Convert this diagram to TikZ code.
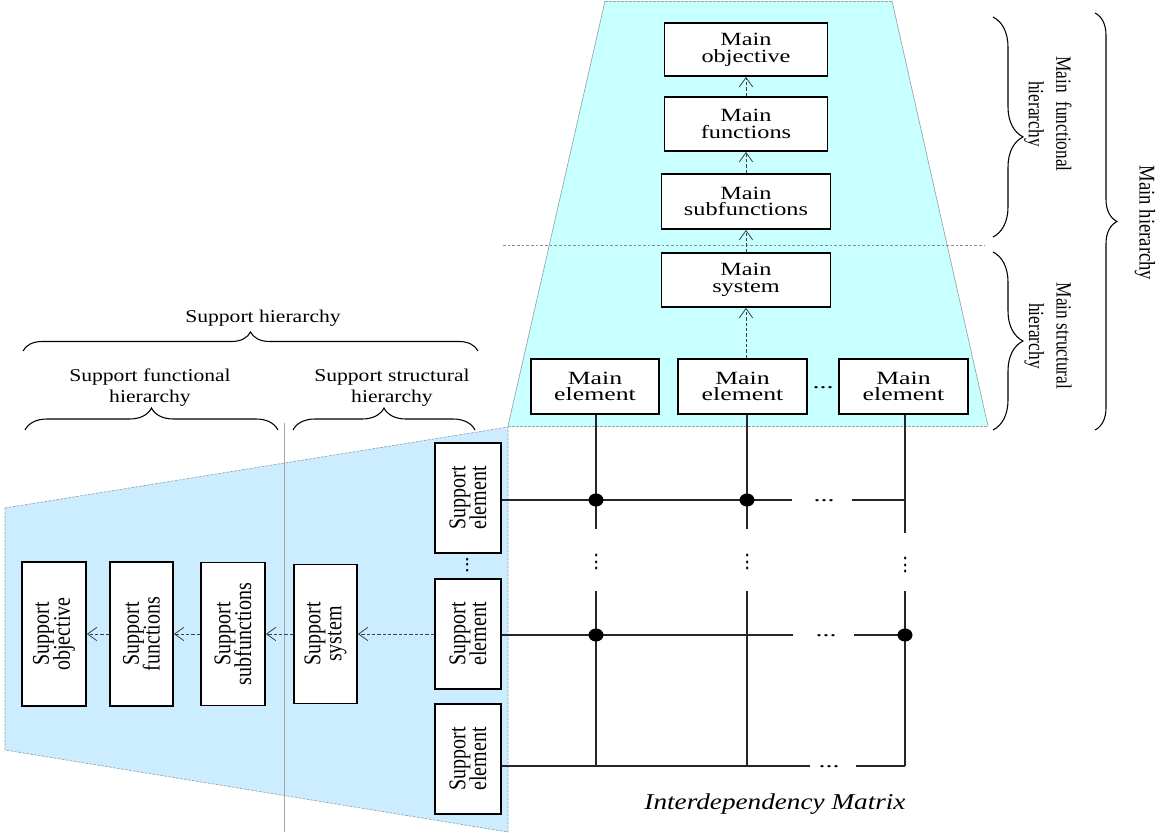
\documentclass[tikz,border=0pt]{standalone}
\usepackage{fontspec}
\setmainfont{Liberation Serif}
\usepackage{graphicx}
\usetikzlibrary{arrows.meta,decorations.pathreplacing}

\definecolor{maincyan}{RGB}{200,255,255}
\definecolor{suppblue}{RGB}{204,236,255}
\definecolor{edgegray}{RGB}{150,165,170}

\newdimen\upx \upx=0.75pt
% centred stack of lines (separated by \cr), leading taken from the current font
\newcommand\stk[1]{\vbox{\lineskiplimit=-\maxdimen\halign{\hfil##\hfil\cr#1\crcr}}}
% stack widened horizontally
\newcommand\wide[2]{\scalebox{#1}[1]{\stk{#2}}}
% stack set bottom-to-top, widened across its lines
\newcommand\tall[2]{\rotatebox{90}{\scalebox{1}[#1]{\stk{#2}}}}

\begin{document}
\begin{tikzpicture}[x=0.75pt, y=-0.75pt,
  mbox/.style 2 args={draw=black, line width=1.3pt, fill=white, inner sep=0pt,
    minimum width=#1*\upx, minimum height=#2*\upx, font=\fontsize{14}{12.5}\selectfont},
  sbox/.style 2 args={mbox={#1}{#2}, font=\fontsize{15}{13}\selectfont},
  conn/.style={draw=black!75, line width=0.6pt, dash pattern=on 2.5pt off 1.5pt,
    -{Straight Barb[length=7pt,width=10pt,line width=0.6pt]}},
  grid/.style={draw=black!85, line width=0.9pt},
  hbrace/.style={decorate, decoration={brace, amplitude=#1}, draw=black, line width=0.8pt},
  lbl/.style={font=\fontsize{13.5}{15.75}\selectfont, inner sep=0pt},
  rlbl/.style={font=\fontsize{13}{16.5}\selectfont, inner sep=0pt, rotate=-90},
  hdots/.style={font=\fontsize{14}{14}\selectfont, inner sep=0pt, anchor=base},
  vdots/.style={font=\fontsize{14}{14}\selectfont, inner sep=0pt, anchor=base, rotate=90},
  shade edge/.style={draw=edgegray, line width=0.5pt},
  shade dash/.style={draw=edgegray, line width=0.5pt, dash pattern=on 2pt off 1pt},
]
\useasboundingbox (0,0) rectangle (1163,832);

% shaded regions
\fill[maincyan] (605,1) -- (892,1) -- (988,426) -- (508,426) -- cycle;
\draw[shade dash] (605,1) -- (892,1);
\draw[shade edge] (892,1) -- (988,426);
\draw[shade edge] (605,1) -- (508,426);
\draw[shade dash] (508,426) -- (988,426);
\fill[suppblue] (5,508) -- (508,427) -- (508,832) -- (5,750) -- cycle;
\draw[shade dash] (5,508) -- (508,427) -- (508,832) -- (5,750) -- cycle;

% dividers between functional and structural levels
\draw[draw=black!45, line width=0.5pt, dash pattern=on 2pt off 1.5pt] (503,245) -- (985,245);
\draw[draw=black!35, line width=0.5pt] (284,423) -- (284,832);

% main hierarchy
\node[mbox={163}{53}] (obj) at (746,49.5) {\wide{1.3}{Main\cr objective}};
\node[mbox={163}{54}] (fun) at (746,124) {\wide{1.3}{Main\cr functions}};
\node[mbox={169}{55}] (sub) at (746,201.5) {\wide{1.3}{Main\cr subfunctions}};
\node[mbox={169}{54}] (sys) at (746,280) {\wide{1.3}{Main\cr system}};
\node[mbox={128}{55}] (e1) at (595,386.5) {\wide{1.38}{Main\cr element}};
\node[mbox={129}{55}] (e2) at (742.5,386.5) {\wide{1.38}{Main\cr element}};
\node[mbox={129}{55}] (e3) at (903.5,386.5) {\wide{1.38}{Main\cr element}};
\node[hdots] (edots) at (823,388) {\scalebox{1.5}[1]{...}};

\draw[conn] (fun.north) -- (obj.south);
\draw[conn] (sub.north) -- (fun.south);
\draw[conn] (sys.north) -- (sub.south);
\draw[conn] (sys.south |- e2.north) -- (sys.south);

% support hierarchy
\node[sbox={64}{144}] (so) at (54,634) {\tall{1.2}{Support\cr objective}};
\node[sbox={63}{144}] (sf) at (141.5,634) {\tall{1.2}{Support\cr functions}};
\node[sbox={64}{143}] (ss) at (233,634) {\tall{1.2}{Support\cr subfunctions}};
\node[sbox={63}{139}] (sy) at (325.5,634) {\tall{1.2}{Support\cr system}};
\node[sbox={66}{110}] (se1) at (468,498) {\tall{1.2}{Support\cr element}};
\node[sbox={66}{110}] (se2) at (468,634) {\tall{1.2}{Support\cr element}};
\node[sbox={66}{110}] (se3) at (468,759) {\tall{1.2}{Support\cr element}};
\node[vdots] (sdots) at (468,565) {\scalebox{1.2}[1]{...}};

\draw[conn] (se2.west) -- (sy.east);
\draw[conn] (sy.west) -- (ss.east);
\draw[conn] (ss.west) -- (sf.east);
\draw[conn] (sf.west) -- (so.east);

% braces and their labels
\draw[hbrace=14.25pt] (23,351) -- (478,351);
\draw[hbrace=16.5pt] (25,430) -- (278,430);
\draw[hbrace=16.5pt] (293,430) -- (475,430);
\draw[hbrace=22.5pt, decoration={aspect=0.545}] (993,17) -- (993,237);
\draw[hbrace=22.5pt] (993,252) -- (993,430);
\draw[hbrace=16.5pt] (1095,13) -- (1095,430);

\node[lbl, anchor=base] (lsh) at (263,322) {\wide{1.2}{Support hierarchy}};
\node[lbl, anchor=base] (lsf) at (150,402) {\wide{1.2}{Support functional\cr hierarchy}};
\node[lbl, anchor=base] (lss) at (392,402) {\wide{1.2}{Support structural\cr hierarchy}};
\node[rlbl] (lmf) at (1048,114) {\scalebox{1}[1.25]{\stk{Main\enspace functional\cr hierarchy}}};
\node[rlbl] (lms) at (1048,336) {\scalebox{1}[1.25]{\stk{Main structural\cr hierarchy}}};
\node[rlbl, font=\fontsize{14}{17}\selectfont] (lmh) at (1145,223) {\scalebox{1}[1.2]{\stk{Main hierarchy}}};

% interdependency matrix
\coordinate (c1) at (596,0);
\coordinate (c2) at (747,0);
\coordinate (c3) at (905,0);
\coordinate (r1) at (0,500);
\coordinate (r2) at (0,635);
\coordinate (r3) at (0,766);

\draw[grid] (e1.south -| c1) -- (596,529);
\draw[grid] (596,591) -- (c1 |- r3);
\draw[grid] (e2.south -| c2) -- (747,529);
\draw[grid] (747,591) -- (c2 |- r3);
\draw[grid] (e3.south -| c3) -- (905,533);
\draw[grid] (905,591) -- (c3 |- r3);

\draw[grid] (se1.east |- r1) -- (792,500);
\draw[grid] (852,500) -- (c3 |- r1);
\draw[grid] (se2.east |- r2) -- (793,635);
\draw[grid] (854,635) -- (c3 |- r2);
\draw[grid] (se3.east |- r3) -- (810,766);
\draw[grid] (856,766) -- (c3 |- r3);

\node[hdots] (hd1) at (824,501) {\scalebox{1.5}[1]{...}};
\node[hdots] (hd2) at (826,636) {\scalebox{1.5}[1]{...}};
\node[hdots] (hd3) at (829,767) {\scalebox{1.5}[1]{...}};
\node[vdots] (vd1) at (597,562) {\scalebox{1.3}[1]{...}};
\node[vdots] (vd2) at (748,562) {\scalebox{1.3}[1]{...}};
\node[vdots] (vd3) at (906,565) {\scalebox{1.3}[1]{...}};

\fill (c1 |- r1) ellipse [x radius=7.5, y radius=6.5];
\fill (c2 |- r1) ellipse [x radius=7.5, y radius=6.5];
\fill (c1 |- r2) ellipse [x radius=7.5, y radius=6.5];
\fill (c3 |- r2) ellipse [x radius=7.5, y radius=6.5];

\node[font=\fontsize{17}{20}\selectfont\itshape, inner sep=0pt, anchor=base] (imx) at (775,809)
  {\scalebox{1.2}[1]{Interdependency Matrix}};
\end{tikzpicture}
\end{document}
